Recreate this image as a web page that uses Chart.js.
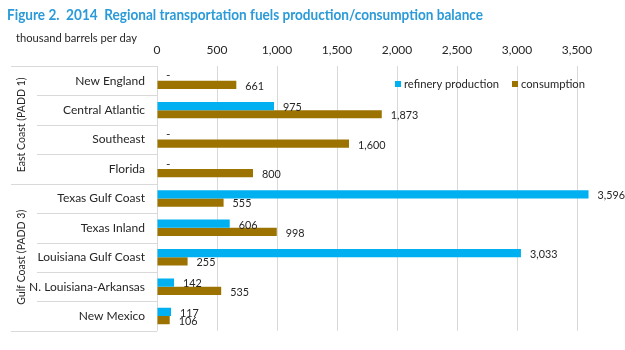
<!DOCTYPE html>
<html lang="en">
<head>
    <meta charset="UTF-8">
    <title>Regional transportation fuels production/consumption balance</title>
    <script src="https://cdn.jsdelivr.net/npm/chart.js"></script>
    <style>
        html, body { margin: 0; padding: 0; background: #FFFFFF; }
        canvas { display: block; }
    </style>
</head>
<body>
    <canvas id="balanceChart" width="625" height="350"></canvas>

    <script>
        // data (thousand barrels per day)
        const categories = ['New England', 'Central Atlantic', 'Southeast', 'Florida',
            'Texas Gulf Coast', 'Texas Inland', 'Louisiana Gulf Coast', 'N. Louisiana-Arkansas', 'New Mexico'];
        const production = [0, 975, 0, 0, 3596, 606, 3033, 142, 117];
        const consumption = [661, 1873, 1600, 800, 555, 998, 255, 535, 106];
        const seriesNames = ['refinery production', 'consumption'];
        const groupLabels = ['East Coast (PADD 1)', 'Gulf Coast (PADD 3)'];
        const groupSizes = [4, 5];
        const tickValues = [0, 500, 1000, 1500, 2000, 2500, 3000, 3500];

        const BLUE = '#00B0F0';
        const BROWN = '#9C7300';
        const FONT = 'Lato, "Open Sans", sans-serif';
        const GRID = '#D9D9D9';

        // squeeze text a little, the original face is narrower than Lato
        function narrowText(ctx, text, x, y) {
            ctx.fillText(text, x, y, ctx.measureText(text).width * 0.9);
        }

        // extra text, separators, legend and value labels
        const decorations = {
            id: 'decorations',
            beforeDatasetsDraw(chart) {
                const ctx = chart.ctx;
                const area = chart.chartArea;
                const rowH = (area.bottom - area.top) / categories.length;
                ctx.save();
                ctx.strokeStyle = GRID;
                ctx.lineWidth = 1;
                const groupEdges = [0];
                groupSizes.forEach(n => groupEdges.push(groupEdges[groupEdges.length - 1] + n));
                for (let i = 0; i <= categories.length; i++) {
                    const y = Math.round(area.top + i * rowH) + 0.5;
                    const x0 = groupEdges.includes(i) ? 11 : 37;
                    ctx.beginPath();
                    ctx.moveTo(x0, y);
                    ctx.lineTo(area.left, y);
                    ctx.stroke();
                }
                ctx.restore();
            },
            afterDraw(chart) {
                const ctx = chart.ctx;
                const area = chart.chartArea;
                const rowH = (area.bottom - area.top) / categories.length;
                ctx.save();

                // title
                ctx.fillStyle = '#2A9BD8';
                ctx.font = 'bold 15px ' + FONT;
                ctx.textBaseline = 'alphabetic';
                ctx.textAlign = 'left';
                ctx.fillText('Figure 2.  2014  Regional transportation fuels production/consumption balance', 7, 20, 476);

                // unit label
                ctx.fillStyle = '#262626';
                ctx.font = '12px ' + FONT;
                ctx.textBaseline = 'middle';
                ctx.fillText('thousand barrels per day', 16, 38, 121);

                // group labels
                let start = 0;
                groupSizes.forEach((n, g) => {
                    const yc = area.top + (start + n / 2) * rowH;
                    ctx.save();
                    ctx.translate(21, yc);
                    ctx.rotate(-Math.PI / 2);
                    ctx.textAlign = 'center';
                    ctx.fillText(groupLabels[g], 0, 0, 95);
                    ctx.restore();
                    start += n;
                });

                // legend
                const legend = [[395, 404, BLUE, seriesNames[0], 95], [512, 521, BROWN, seriesNames[1], 64]];
                legend.forEach(([sx, tx, color, text, w]) => {
                    ctx.fillStyle = color;
                    ctx.fillRect(sx, 81, 6, 6);
                    ctx.fillStyle = '#262626';
                    ctx.textAlign = 'left';
                    ctx.fillText(text, tx, 84, w);
                });

                // value labels
                ctx.fillStyle = '#262626';
                ctx.textAlign = 'left';
                chart.data.datasets.forEach((ds, di) => {
                    chart.getDatasetMeta(di).data.forEach((bar, i) => {
                        const v = ds.data[i];
                        if (v === 0) {
                            ctx.fillText('-', bar.base + 9, bar.y - 1);
                        } else {
                            narrowText(ctx, v.toLocaleString('en-US'), bar.x + 9, bar.y + 1);
                        }
                    });
                });
                ctx.restore();
            }
        };

        const ctxBalance = document.getElementById('balanceChart').getContext('2d');
        const balanceChart = new Chart(ctxBalance, {
            type: 'bar',
            data: {
                labels: categories,
                datasets: [
                    {
                        label: seriesNames[0],
                        data: production,
                        backgroundColor: BLUE,
                        barPercentage: 1,
                        categoryPercentage: 0.56
                    },
                    {
                        label: seriesNames[1],
                        data: consumption,
                        backgroundColor: BROWN,
                        barPercentage: 1,
                        categoryPercentage: 0.56
                    }
                ]
            },
            options: {
                indexAxis: 'y',
                responsive: false,
                animation: false,
                layout: { padding: { top: 42, right: 12, bottom: 18, left: 0 } },
                scales: {
                    x: {
                        position: 'top',
                        min: 0,
                        max: 3800,
                        afterFit(scale) { scale.height = 24; },
                        afterBuildTicks(scale) {
                            scale.ticks = tickValues.map(v => ({ value: v }));
                        },
                        grid: { color: GRID, drawTicks: false },
                        border: { display: false },
                        ticks: {
                            padding: 9,
                            color: '#262626',
                            font: { family: FONT, size: 12 },
                            callback: v => v.toLocaleString('en-US')
                        }
                    },
                    y: {
                        afterFit(scale) { scale.width = 157; },
                        grid: { display: false, drawTicks: false },
                        border: { display: false },
                        ticks: {
                            padding: 12,
                            color: '#262626',
                            font: { family: FONT, size: 12 }
                        }
                    }
                },
                plugins: {
                    legend: { display: false },
                    tooltip: { enabled: false }
                }
            },
            plugins: [decorations]
        });
    </script>
</body>
</html>
